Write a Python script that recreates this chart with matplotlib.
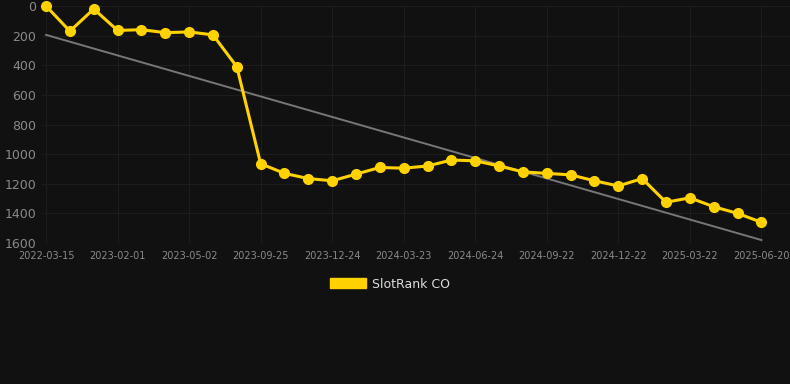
import numpy as np
import matplotlib.pyplot as plt
from matplotlib.patches import Patch

# DATA
labels = ["2022-03-15", "2023-02-01", "2023-05-02", "2023-09-25", "2023-12-24",
          "2024-03-23", "2024-06-24", "2024-09-22", "2024-12-22", "2025-03-22",
          "2025-06-20"]
rank = [0, 170, 20, 165, 160, 180, 175, 195, 410, 1065,
        1130, 1165, 1180, 1135, 1090, 1095, 1080, 1040, 1045, 1080,
        1120, 1130, 1140, 1180, 1215, 1165, 1325, 1295, 1355, 1400,
        1460]
trend_ends = [195, 1580]
series_name = "SlotRank CO"

bg = "#111111"
gold = "#FFD200"

x = np.arange(len(rank))

fig = plt.figure(figsize=(7.9, 3.84), dpi=100, facecolor=bg)
ax = fig.add_axes([42 / 790, 1 - 243 / 384, 748 / 790, 237 / 384])
ax.set_facecolor(bg)

# trend line
ax.plot([x[0], x[-1]], trend_ends, color="#777777", lw=1.4, zorder=2)

# main series
ax.plot(x, rank, color=gold, lw=2.2, marker="o", markersize=7,
        clip_on=False, zorder=3)

ax.set_ylim(1600, 0)
ax.set_xlim(-0.17, 31.2)
ax.set_yticks(range(0, 1601, 200))
ax.set_xticks(x[::3])
ax.set_xticklabels(labels)

ax.tick_params(axis="y", colors="#8a8a8a", labelsize=9, length=0, pad=4)
ax.tick_params(axis="x", colors="#8a8a8a", labelsize=7, length=0, pad=6)
ax.grid(True, color="#1d1d1d", lw=0.8)
ax.set_axisbelow(True)
for s in ax.spines.values():
    s.set_visible(False)

fig.legend(handles=[Patch(color=gold, label=series_name)],
           loc="center", bbox_to_anchor=(390 / 790, 1 - 284 / 384),
           frameon=False, labelcolor="#dddddd", fontsize=9,
           handlelength=2.9, handleheight=0.9, handletextpad=0.5)

fig.savefig("out.png", dpi=100, facecolor=bg)
